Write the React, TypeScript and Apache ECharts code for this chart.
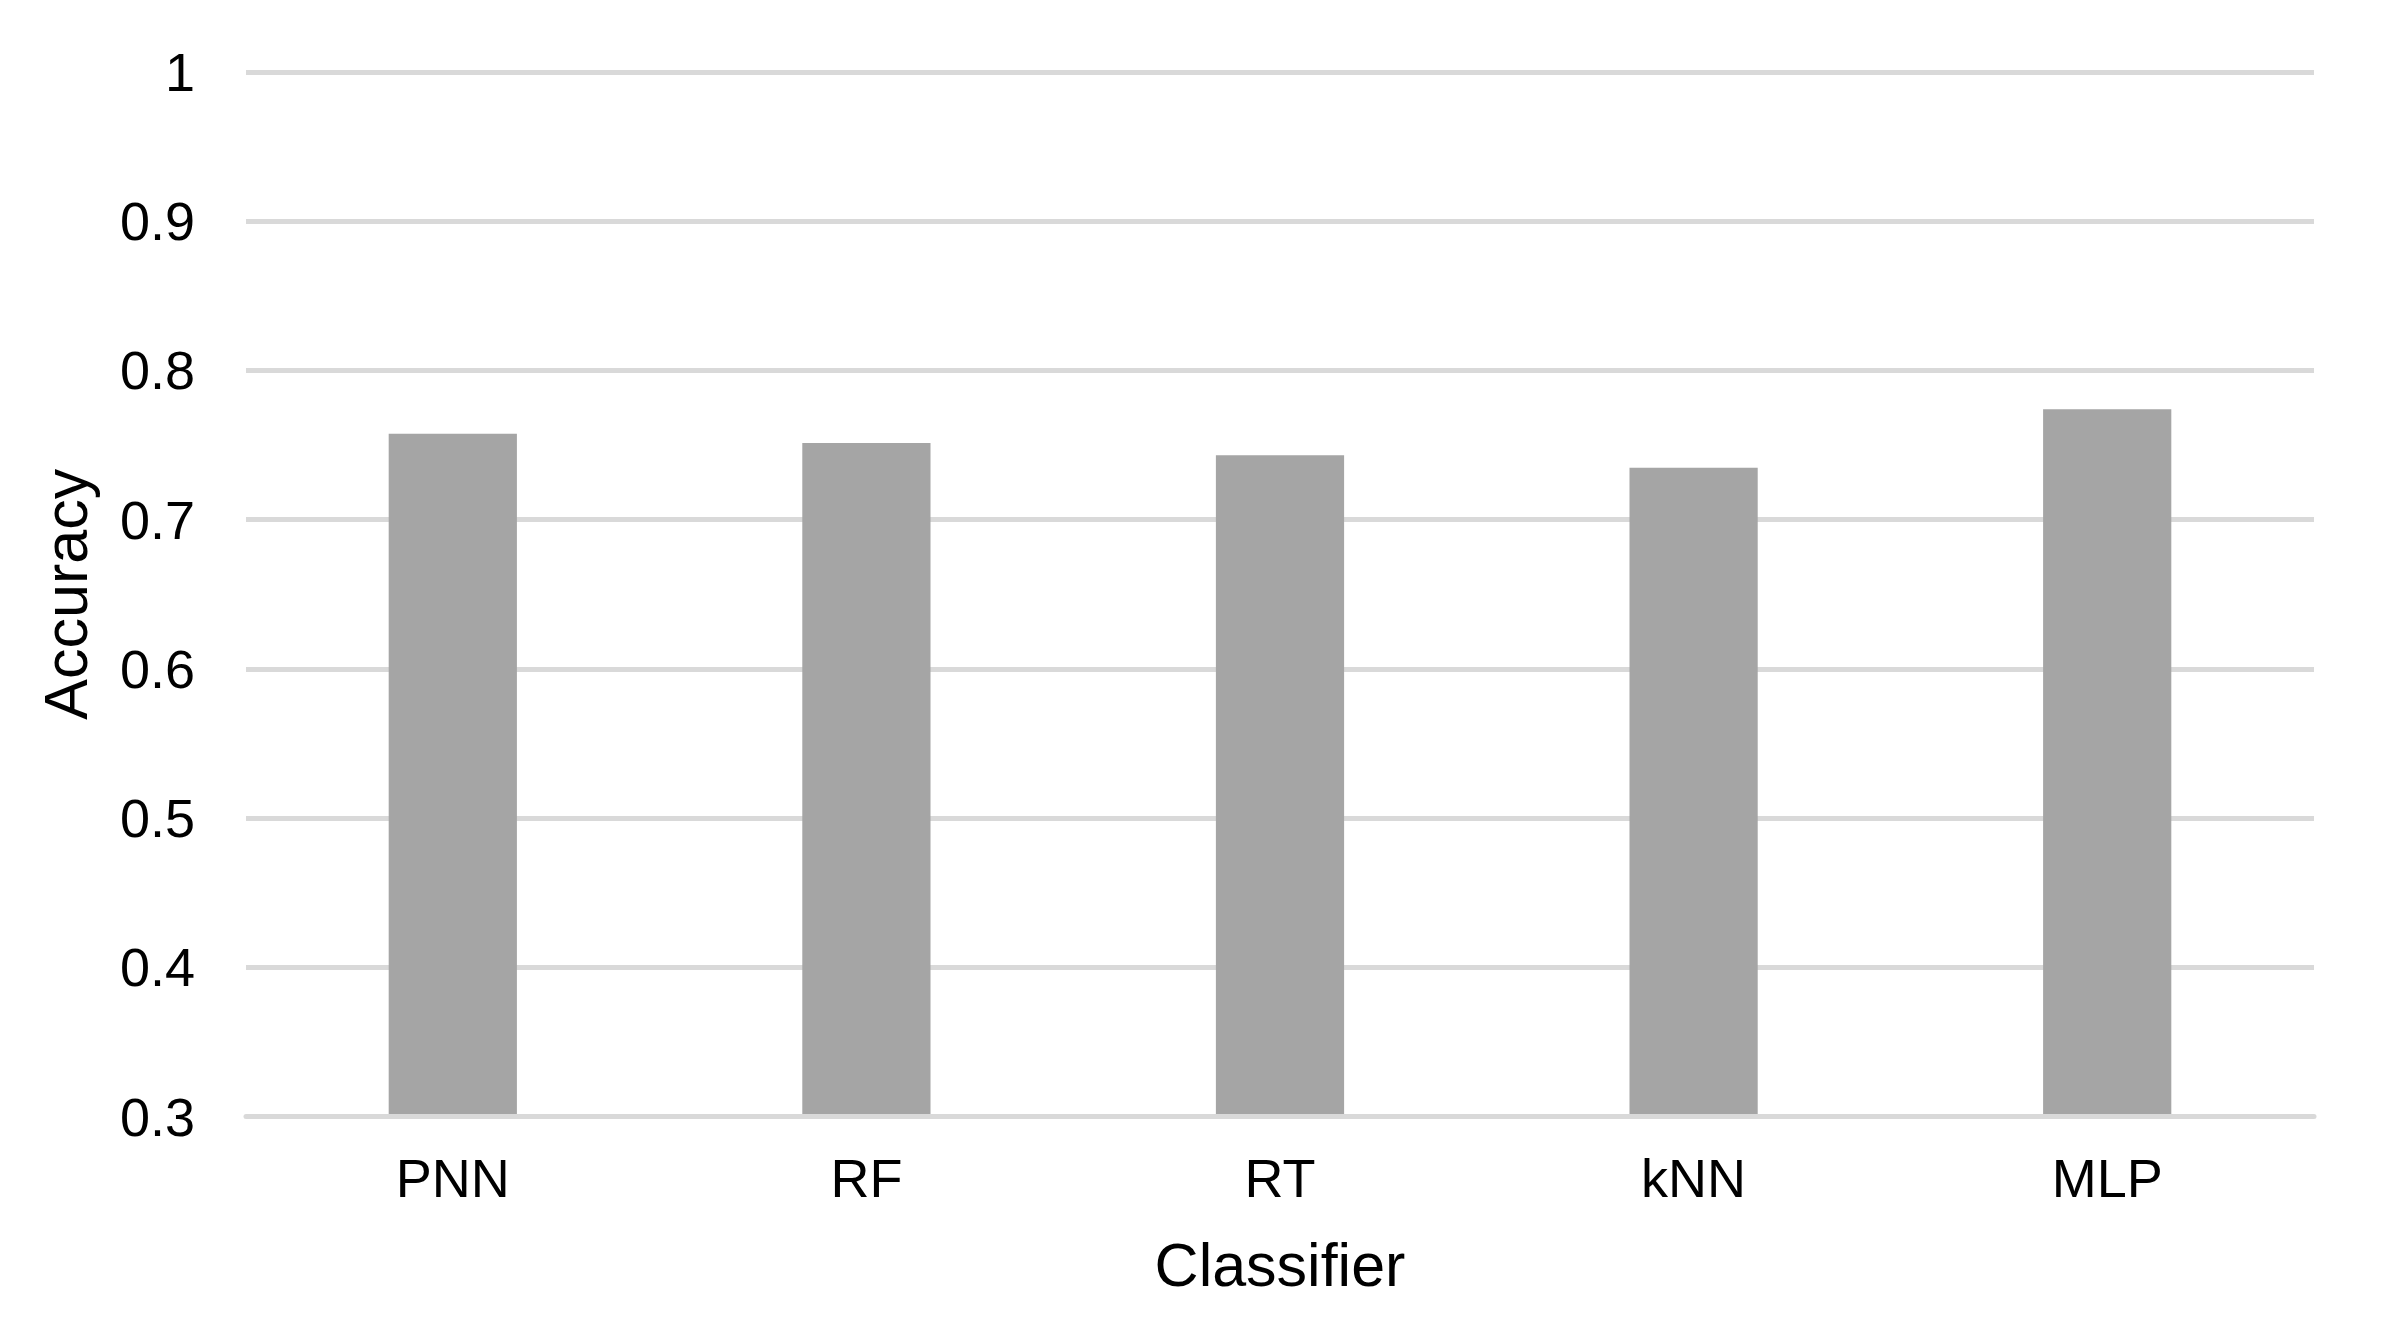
import React, { useEffect, useRef } from "react";
import * as echarts from "echarts";

const categories = ["PNN", "RF", "RT", "kNN", "MLP"];
const accuracy = [0.7576, 0.7514, 0.7431, 0.7348, 0.7739];
const yMin = 0.3;
const yMax = 1;
const yStep = 0.1;
const xTitle = "Classifier";
const yTitle = "Accuracy";

const FONT = "'Liberation Sans', Arial, sans-serif";

export default function App() {
  const ref = useRef<HTMLDivElement>(null);
  useEffect(() => {
    document.body.style.margin = "0";
    const chart = echarts.init(ref.current!, null, { renderer: "svg" });
    chart.setOption({
      animation: false,
      backgroundColor: "#ffffff",
      grid: { left: 246, right: 92, top: 72, bottom: 214.5, containLabel: false },
      xAxis: {
        type: "category",
        data: categories,
        z: 3,
        name: xTitle,
        nameLocation: "middle",
        nameGap: 118,
        nameTextStyle: { fontSize: 61, color: "#000", fontFamily: FONT },
        axisLine: { show: true, lineStyle: { color: "#d9d9d9", width: 5 } },
        axisTick: { show: false },
        axisLabel: { fontSize: 54, color: "#000", fontFamily: FONT, margin: 34 },
      },
      yAxis: {
        type: "value",
        min: yMin,
        max: yMax,
        interval: yStep,
        name: yTitle,
        nameLocation: "middle",
        nameRotate: 90,
        nameGap: 150,
        nameTextStyle: { fontSize: 61, color: "#000", fontFamily: FONT },
        axisLine: { show: false },
        axisTick: { show: false },
        axisLabel: {
          fontSize: 54,
          color: "#000",
          fontFamily: FONT,
          margin: 51,
          formatter: (v: number) => String(Math.round(v * 10) / 10),
        },
        splitLine: { show: true, lineStyle: { color: "#d9d9d9", width: 5 } },
      },
      series: [
        {
          type: "bar",
          data: accuracy,
          barWidth: "31%",
          itemStyle: { color: "#a5a5a5" },
        },
      ],
    });
    return () => chart.dispose();
  }, []);
  return <div ref={ref} style={{ width: 2406, height: 1331 }} />;
}
